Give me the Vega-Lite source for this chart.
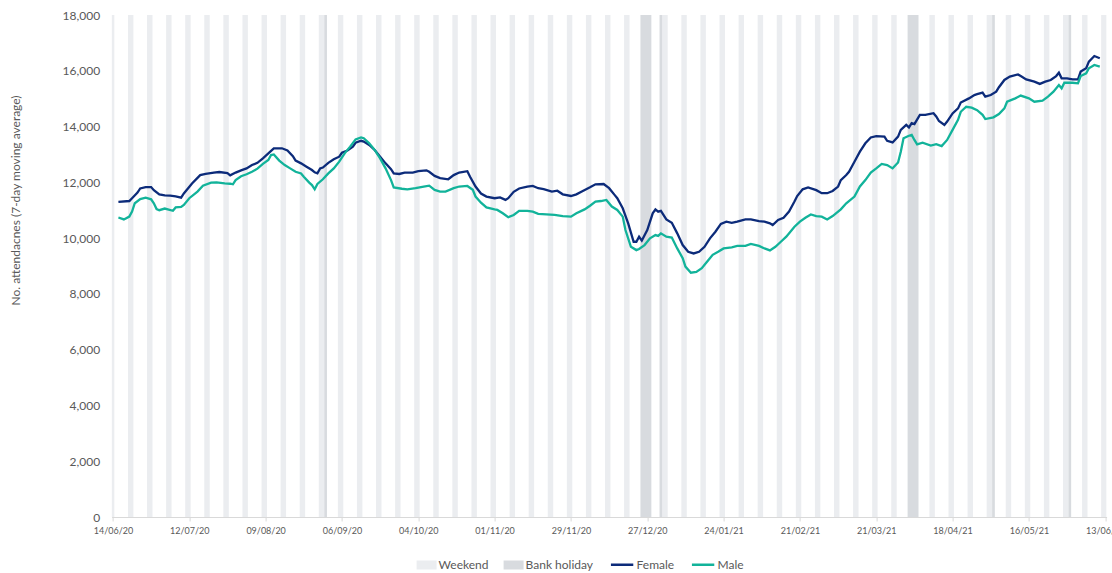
{
"$schema":"https://vega.github.io/schema/vega-lite/v6.json",
"width":995,"height":502,
"autosize":"none",
"padding":{"left":111.6,"top":15,"right":5.4,"bottom":56},
"background":"white",
"config":{"view":{"stroke":null},"font":"Lato"},
"datasets":{
"bands":[
{"start":"2020-06-14","end":"2020-06-14","t":"Weekend"},
{"start":"2020-06-20","end":"2020-06-21","t":"Weekend"},
{"start":"2020-06-27","end":"2020-06-28","t":"Weekend"},
{"start":"2020-07-04","end":"2020-07-05","t":"Weekend"},
{"start":"2020-07-11","end":"2020-07-12","t":"Weekend"},
{"start":"2020-07-18","end":"2020-07-19","t":"Weekend"},
{"start":"2020-07-25","end":"2020-07-26","t":"Weekend"},
{"start":"2020-08-01","end":"2020-08-02","t":"Weekend"},
{"start":"2020-08-08","end":"2020-08-09","t":"Weekend"},
{"start":"2020-08-15","end":"2020-08-16","t":"Weekend"},
{"start":"2020-08-22","end":"2020-08-23","t":"Weekend"},
{"start":"2020-08-29","end":"2020-08-30","t":"Weekend"},
{"start":"2020-09-05","end":"2020-09-06","t":"Weekend"},
{"start":"2020-09-12","end":"2020-09-13","t":"Weekend"},
{"start":"2020-09-19","end":"2020-09-20","t":"Weekend"},
{"start":"2020-09-26","end":"2020-09-27","t":"Weekend"},
{"start":"2020-10-03","end":"2020-10-04","t":"Weekend"},
{"start":"2020-10-10","end":"2020-10-11","t":"Weekend"},
{"start":"2020-10-17","end":"2020-10-18","t":"Weekend"},
{"start":"2020-10-24","end":"2020-10-25","t":"Weekend"},
{"start":"2020-10-31","end":"2020-11-01","t":"Weekend"},
{"start":"2020-11-07","end":"2020-11-08","t":"Weekend"},
{"start":"2020-11-14","end":"2020-11-15","t":"Weekend"},
{"start":"2020-11-21","end":"2020-11-22","t":"Weekend"},
{"start":"2020-11-28","end":"2020-11-29","t":"Weekend"},
{"start":"2020-12-05","end":"2020-12-06","t":"Weekend"},
{"start":"2020-12-12","end":"2020-12-13","t":"Weekend"},
{"start":"2020-12-19","end":"2020-12-20","t":"Weekend"},
{"start":"2020-12-26","end":"2020-12-27","t":"Weekend"},
{"start":"2021-01-02","end":"2021-01-03","t":"Weekend"},
{"start":"2021-01-09","end":"2021-01-10","t":"Weekend"},
{"start":"2021-01-16","end":"2021-01-17","t":"Weekend"},
{"start":"2021-01-23","end":"2021-01-24","t":"Weekend"},
{"start":"2021-01-30","end":"2021-01-31","t":"Weekend"},
{"start":"2021-02-06","end":"2021-02-07","t":"Weekend"},
{"start":"2021-02-13","end":"2021-02-14","t":"Weekend"},
{"start":"2021-02-20","end":"2021-02-21","t":"Weekend"},
{"start":"2021-02-27","end":"2021-02-28","t":"Weekend"},
{"start":"2021-03-06","end":"2021-03-07","t":"Weekend"},
{"start":"2021-03-13","end":"2021-03-14","t":"Weekend"},
{"start":"2021-03-20","end":"2021-03-21","t":"Weekend"},
{"start":"2021-03-27","end":"2021-03-28","t":"Weekend"},
{"start":"2021-04-03","end":"2021-04-04","t":"Weekend"},
{"start":"2021-04-10","end":"2021-04-11","t":"Weekend"},
{"start":"2021-04-17","end":"2021-04-18","t":"Weekend"},
{"start":"2021-04-24","end":"2021-04-25","t":"Weekend"},
{"start":"2021-05-01","end":"2021-05-02","t":"Weekend"},
{"start":"2021-05-08","end":"2021-05-09","t":"Weekend"},
{"start":"2021-05-15","end":"2021-05-16","t":"Weekend"},
{"start":"2021-05-22","end":"2021-05-23","t":"Weekend"},
{"start":"2021-05-29","end":"2021-05-30","t":"Weekend"},
{"start":"2021-06-05","end":"2021-06-06","t":"Weekend"},
{"start":"2021-06-12","end":"2021-06-13","t":"Weekend"},
{"start":"2020-08-31","end":"2020-08-31","t":"Bank holiday"},
{"start":"2020-12-25","end":"2020-12-28","t":"Bank holiday"},
{"start":"2021-01-01","end":"2021-01-01","t":"Bank holiday"},
{"start":"2021-04-02","end":"2021-04-05","t":"Bank holiday"},
{"start":"2021-05-03","end":"2021-05-03","t":"Bank holiday"},
{"start":"2021-05-31","end":"2021-05-31","t":"Bank holiday"}
],
"series":[
{"date":"2020-06-16","s":"Female","v":11300},
{"date":"2020-06-20","s":"Female","v":11330},
{"date":"2020-06-21","s":"Female","v":11430},
{"date":"2020-06-23","s":"Female","v":11630},
{"date":"2020-06-24","s":"Female","v":11780},
{"date":"2020-06-26","s":"Female","v":11830},
{"date":"2020-06-28","s":"Female","v":11830},
{"date":"2020-06-29","s":"Female","v":11720},
{"date":"2020-07-01","s":"Female","v":11570},
{"date":"2020-07-03","s":"Female","v":11530},
{"date":"2020-07-05","s":"Female","v":11520},
{"date":"2020-07-07","s":"Female","v":11500},
{"date":"2020-07-09","s":"Female","v":11450},
{"date":"2020-07-10","s":"Female","v":11600},
{"date":"2020-07-13","s":"Female","v":11960},
{"date":"2020-07-16","s":"Female","v":12260},
{"date":"2020-07-18","s":"Female","v":12300},
{"date":"2020-07-21","s":"Female","v":12350},
{"date":"2020-07-23","s":"Female","v":12370},
{"date":"2020-07-26","s":"Female","v":12330},
{"date":"2020-07-27","s":"Female","v":12250},
{"date":"2020-07-29","s":"Female","v":12350},
{"date":"2020-07-31","s":"Female","v":12430},
{"date":"2020-08-02","s":"Female","v":12500},
{"date":"2020-08-04","s":"Female","v":12620},
{"date":"2020-08-06","s":"Female","v":12700},
{"date":"2020-08-08","s":"Female","v":12860},
{"date":"2020-08-10","s":"Female","v":13040},
{"date":"2020-08-12","s":"Female","v":13220},
{"date":"2020-08-15","s":"Female","v":13220},
{"date":"2020-08-17","s":"Female","v":13140},
{"date":"2020-08-19","s":"Female","v":12940},
{"date":"2020-08-20","s":"Female","v":12780},
{"date":"2020-08-22","s":"Female","v":12680},
{"date":"2020-08-24","s":"Female","v":12560},
{"date":"2020-08-26","s":"Female","v":12440},
{"date":"2020-08-27","s":"Female","v":12360},
{"date":"2020-08-28","s":"Female","v":12320},
{"date":"2020-08-29","s":"Female","v":12500},
{"date":"2020-08-30","s":"Female","v":12530},
{"date":"2020-09-01","s":"Female","v":12700},
{"date":"2020-09-03","s":"Female","v":12830},
{"date":"2020-09-05","s":"Female","v":12920},
{"date":"2020-09-06","s":"Female","v":13060},
{"date":"2020-09-08","s":"Female","v":13140},
{"date":"2020-09-10","s":"Female","v":13280},
{"date":"2020-09-11","s":"Female","v":13420},
{"date":"2020-09-13","s":"Female","v":13490},
{"date":"2020-09-14","s":"Female","v":13460},
{"date":"2020-09-16","s":"Female","v":13340},
{"date":"2020-09-18","s":"Female","v":13160},
{"date":"2020-09-20","s":"Female","v":12920},
{"date":"2020-09-22","s":"Female","v":12680},
{"date":"2020-09-24","s":"Female","v":12470},
{"date":"2020-09-25","s":"Female","v":12320},
{"date":"2020-09-27","s":"Female","v":12300},
{"date":"2020-09-29","s":"Female","v":12350},
{"date":"2020-10-02","s":"Female","v":12350},
{"date":"2020-10-04","s":"Female","v":12400},
{"date":"2020-10-07","s":"Female","v":12430},
{"date":"2020-10-08","s":"Female","v":12380},
{"date":"2020-10-10","s":"Female","v":12230},
{"date":"2020-10-12","s":"Female","v":12150},
{"date":"2020-10-15","s":"Female","v":12110},
{"date":"2020-10-17","s":"Female","v":12260},
{"date":"2020-10-19","s":"Female","v":12350},
{"date":"2020-10-22","s":"Female","v":12400},
{"date":"2020-10-23","s":"Female","v":12200},
{"date":"2020-10-25","s":"Female","v":11850},
{"date":"2020-10-27","s":"Female","v":11600},
{"date":"2020-10-29","s":"Female","v":11490},
{"date":"2020-11-01","s":"Female","v":11430},
{"date":"2020-11-03","s":"Female","v":11460},
{"date":"2020-11-05","s":"Female","v":11370},
{"date":"2020-11-06","s":"Female","v":11430},
{"date":"2020-11-08","s":"Female","v":11660},
{"date":"2020-11-10","s":"Female","v":11780},
{"date":"2020-11-13","s":"Female","v":11850},
{"date":"2020-11-15","s":"Female","v":11870},
{"date":"2020-11-17","s":"Female","v":11790},
{"date":"2020-11-19","s":"Female","v":11760},
{"date":"2020-11-22","s":"Female","v":11670},
{"date":"2020-11-24","s":"Female","v":11700},
{"date":"2020-11-26","s":"Female","v":11570},
{"date":"2020-11-29","s":"Female","v":11510},
{"date":"2020-12-01","s":"Female","v":11570},
{"date":"2020-12-03","s":"Female","v":11670},
{"date":"2020-12-06","s":"Female","v":11820},
{"date":"2020-12-08","s":"Female","v":11930},
{"date":"2020-12-11","s":"Female","v":11940},
{"date":"2020-12-13","s":"Female","v":11790},
{"date":"2020-12-15","s":"Female","v":11550},
{"date":"2020-12-16","s":"Female","v":11430},
{"date":"2020-12-18","s":"Female","v":11070},
{"date":"2020-12-20","s":"Female","v":10530},
{"date":"2020-12-22","s":"Female","v":9870},
{"date":"2020-12-23","s":"Female","v":9870},
{"date":"2020-12-24","s":"Female","v":10050},
{"date":"2020-12-25","s":"Female","v":9910},
{"date":"2020-12-27","s":"Female","v":10290},
{"date":"2020-12-29","s":"Female","v":10890},
{"date":"2020-12-30","s":"Female","v":11030},
{"date":"2020-12-31","s":"Female","v":10950},
{"date":"2021-01-01","s":"Female","v":10980},
{"date":"2021-01-03","s":"Female","v":10670},
{"date":"2021-01-05","s":"Female","v":10550},
{"date":"2021-01-07","s":"Female","v":10170},
{"date":"2021-01-09","s":"Female","v":9750},
{"date":"2021-01-11","s":"Female","v":9510},
{"date":"2021-01-13","s":"Female","v":9450},
{"date":"2021-01-15","s":"Female","v":9510},
{"date":"2021-01-17","s":"Female","v":9690},
{"date":"2021-01-19","s":"Female","v":9990},
{"date":"2021-01-21","s":"Female","v":10230},
{"date":"2021-01-23","s":"Female","v":10510},
{"date":"2021-01-25","s":"Female","v":10590},
{"date":"2021-01-27","s":"Female","v":10550},
{"date":"2021-01-29","s":"Female","v":10590},
{"date":"2021-02-01","s":"Female","v":10670},
{"date":"2021-02-03","s":"Female","v":10670},
{"date":"2021-02-06","s":"Female","v":10610},
{"date":"2021-02-08","s":"Female","v":10590},
{"date":"2021-02-10","s":"Female","v":10530},
{"date":"2021-02-11","s":"Female","v":10470},
{"date":"2021-02-13","s":"Female","v":10650},
{"date":"2021-02-15","s":"Female","v":10730},
{"date":"2021-02-17","s":"Female","v":10950},
{"date":"2021-02-19","s":"Female","v":11310},
{"date":"2021-02-20","s":"Female","v":11510},
{"date":"2021-02-22","s":"Female","v":11750},
{"date":"2021-02-24","s":"Female","v":11820},
{"date":"2021-02-27","s":"Female","v":11720},
{"date":"2021-03-01","s":"Female","v":11610},
{"date":"2021-03-03","s":"Female","v":11610},
{"date":"2021-03-05","s":"Female","v":11690},
{"date":"2021-03-07","s":"Female","v":11850},
{"date":"2021-03-08","s":"Female","v":12080},
{"date":"2021-03-10","s":"Female","v":12260},
{"date":"2021-03-11","s":"Female","v":12380},
{"date":"2021-03-13","s":"Female","v":12740},
{"date":"2021-03-15","s":"Female","v":13100},
{"date":"2021-03-17","s":"Female","v":13400},
{"date":"2021-03-19","s":"Female","v":13610},
{"date":"2021-03-21","s":"Female","v":13660},
{"date":"2021-03-24","s":"Female","v":13640},
{"date":"2021-03-25","s":"Female","v":13490},
{"date":"2021-03-27","s":"Female","v":13430},
{"date":"2021-03-29","s":"Female","v":13640},
{"date":"2021-03-30","s":"Female","v":13880},
{"date":"2021-04-01","s":"Female","v":14060},
{"date":"2021-04-02","s":"Female","v":13970},
{"date":"2021-04-03","s":"Female","v":14120},
{"date":"2021-04-04","s":"Female","v":14090},
{"date":"2021-04-06","s":"Female","v":14420},
{"date":"2021-04-08","s":"Female","v":14420},
{"date":"2021-04-11","s":"Female","v":14480},
{"date":"2021-04-12","s":"Female","v":14360},
{"date":"2021-04-13","s":"Female","v":14200},
{"date":"2021-04-15","s":"Female","v":14060},
{"date":"2021-04-16","s":"Female","v":14180},
{"date":"2021-04-18","s":"Female","v":14470},
{"date":"2021-04-20","s":"Female","v":14650},
{"date":"2021-04-21","s":"Female","v":14860},
{"date":"2021-04-24","s":"Female","v":15010},
{"date":"2021-04-26","s":"Female","v":15130},
{"date":"2021-04-27","s":"Female","v":15160},
{"date":"2021-04-29","s":"Female","v":15220},
{"date":"2021-04-30","s":"Female","v":15070},
{"date":"2021-05-02","s":"Female","v":15130},
{"date":"2021-05-04","s":"Female","v":15250},
{"date":"2021-05-05","s":"Female","v":15410},
{"date":"2021-05-07","s":"Female","v":15670},
{"date":"2021-05-09","s":"Female","v":15790},
{"date":"2021-05-12","s":"Female","v":15870},
{"date":"2021-05-13","s":"Female","v":15810},
{"date":"2021-05-15","s":"Female","v":15690},
{"date":"2021-05-18","s":"Female","v":15610},
{"date":"2021-05-20","s":"Female","v":15530},
{"date":"2021-05-22","s":"Female","v":15610},
{"date":"2021-05-24","s":"Female","v":15670},
{"date":"2021-05-26","s":"Female","v":15810},
{"date":"2021-05-27","s":"Female","v":15930},
{"date":"2021-05-28","s":"Female","v":15730},
{"date":"2021-05-30","s":"Female","v":15730},
{"date":"2021-06-01","s":"Female","v":15690},
{"date":"2021-06-03","s":"Female","v":15690},
{"date":"2021-06-04","s":"Female","v":15970},
{"date":"2021-06-06","s":"Female","v":16090},
{"date":"2021-06-07","s":"Female","v":16330},
{"date":"2021-06-09","s":"Female","v":16530},
{"date":"2021-06-11","s":"Female","v":16450},
{"date":"2020-06-16","s":"Male","v":10740},
{"date":"2020-06-18","s":"Male","v":10670},
{"date":"2020-06-20","s":"Male","v":10770},
{"date":"2020-06-21","s":"Male","v":10950},
{"date":"2020-06-22","s":"Male","v":11250},
{"date":"2020-06-24","s":"Male","v":11400},
{"date":"2020-06-26","s":"Male","v":11450},
{"date":"2020-06-28","s":"Male","v":11390},
{"date":"2020-06-29","s":"Male","v":11250},
{"date":"2020-06-30","s":"Male","v":11040},
{"date":"2020-07-01","s":"Male","v":11000},
{"date":"2020-07-03","s":"Male","v":11060},
{"date":"2020-07-06","s":"Male","v":10980},
{"date":"2020-07-07","s":"Male","v":11100},
{"date":"2020-07-09","s":"Male","v":11120},
{"date":"2020-07-10","s":"Male","v":11190},
{"date":"2020-07-12","s":"Male","v":11430},
{"date":"2020-07-15","s":"Male","v":11670},
{"date":"2020-07-17","s":"Male","v":11880},
{"date":"2020-07-20","s":"Male","v":11990},
{"date":"2020-07-22","s":"Male","v":12000},
{"date":"2020-07-25","s":"Male","v":11960},
{"date":"2020-07-27","s":"Male","v":11950},
{"date":"2020-07-28","s":"Male","v":11930},
{"date":"2020-07-29","s":"Male","v":12080},
{"date":"2020-07-31","s":"Male","v":12220},
{"date":"2020-08-02","s":"Male","v":12290},
{"date":"2020-08-04","s":"Male","v":12380},
{"date":"2020-08-06","s":"Male","v":12490},
{"date":"2020-08-08","s":"Male","v":12660},
{"date":"2020-08-10","s":"Male","v":12800},
{"date":"2020-08-11","s":"Male","v":12980},
{"date":"2020-08-12","s":"Male","v":13000},
{"date":"2020-08-14","s":"Male","v":12780},
{"date":"2020-08-16","s":"Male","v":12620},
{"date":"2020-08-18","s":"Male","v":12500},
{"date":"2020-08-20","s":"Male","v":12380},
{"date":"2020-08-22","s":"Male","v":12320},
{"date":"2020-08-23","s":"Male","v":12200},
{"date":"2020-08-25","s":"Male","v":11990},
{"date":"2020-08-26","s":"Male","v":11900},
{"date":"2020-08-27","s":"Male","v":11750},
{"date":"2020-08-28","s":"Male","v":11940},
{"date":"2020-08-30","s":"Male","v":12110},
{"date":"2020-09-01","s":"Male","v":12320},
{"date":"2020-09-03","s":"Male","v":12500},
{"date":"2020-09-05","s":"Male","v":12740},
{"date":"2020-09-07","s":"Male","v":13040},
{"date":"2020-09-09","s":"Male","v":13280},
{"date":"2020-09-11","s":"Male","v":13540},
{"date":"2020-09-13","s":"Male","v":13610},
{"date":"2020-09-14","s":"Male","v":13580},
{"date":"2020-09-16","s":"Male","v":13400},
{"date":"2020-09-18","s":"Male","v":13160},
{"date":"2020-09-20","s":"Male","v":12860},
{"date":"2020-09-22","s":"Male","v":12500},
{"date":"2020-09-24","s":"Male","v":12080},
{"date":"2020-09-25","s":"Male","v":11820},
{"date":"2020-09-28","s":"Male","v":11770},
{"date":"2020-09-30","s":"Male","v":11750},
{"date":"2020-10-03","s":"Male","v":11790},
{"date":"2020-10-06","s":"Male","v":11850},
{"date":"2020-10-08","s":"Male","v":11880},
{"date":"2020-10-10","s":"Male","v":11730},
{"date":"2020-10-12","s":"Male","v":11670},
{"date":"2020-10-14","s":"Male","v":11670},
{"date":"2020-10-17","s":"Male","v":11790},
{"date":"2020-10-19","s":"Male","v":11850},
{"date":"2020-10-22","s":"Male","v":11870},
{"date":"2020-10-24","s":"Male","v":11730},
{"date":"2020-10-25","s":"Male","v":11490},
{"date":"2020-10-27","s":"Male","v":11270},
{"date":"2020-10-29","s":"Male","v":11100},
{"date":"2020-11-01","s":"Male","v":11030},
{"date":"2020-11-02","s":"Male","v":11010},
{"date":"2020-11-04","s":"Male","v":10890},
{"date":"2020-11-06","s":"Male","v":10750},
{"date":"2020-11-08","s":"Male","v":10830},
{"date":"2020-11-10","s":"Male","v":10980},
{"date":"2020-11-13","s":"Male","v":10980},
{"date":"2020-11-15","s":"Male","v":10950},
{"date":"2020-11-17","s":"Male","v":10870},
{"date":"2020-11-20","s":"Male","v":10850},
{"date":"2020-11-23","s":"Male","v":10830},
{"date":"2020-11-26","s":"Male","v":10790},
{"date":"2020-11-29","s":"Male","v":10770},
{"date":"2020-12-01","s":"Male","v":10890},
{"date":"2020-12-04","s":"Male","v":11030},
{"date":"2020-12-06","s":"Male","v":11160},
{"date":"2020-12-08","s":"Male","v":11310},
{"date":"2020-12-10","s":"Male","v":11330},
{"date":"2020-12-12","s":"Male","v":11370},
{"date":"2020-12-14","s":"Male","v":11130},
{"date":"2020-12-16","s":"Male","v":11010},
{"date":"2020-12-18","s":"Male","v":10770},
{"date":"2020-12-19","s":"Male","v":10290},
{"date":"2020-12-21","s":"Male","v":9690},
{"date":"2020-12-23","s":"Male","v":9570},
{"date":"2020-12-24","s":"Male","v":9610},
{"date":"2020-12-26","s":"Male","v":9750},
{"date":"2020-12-28","s":"Male","v":9990},
{"date":"2020-12-30","s":"Male","v":10110},
{"date":"2020-12-31","s":"Male","v":10080},
{"date":"2021-01-01","s":"Male","v":10170},
{"date":"2021-01-03","s":"Male","v":10050},
{"date":"2021-01-05","s":"Male","v":10020},
{"date":"2021-01-07","s":"Male","v":9630},
{"date":"2021-01-09","s":"Male","v":9280},
{"date":"2021-01-10","s":"Male","v":8980},
{"date":"2021-01-12","s":"Male","v":8760},
{"date":"2021-01-14","s":"Male","v":8790},
{"date":"2021-01-16","s":"Male","v":8920},
{"date":"2021-01-18","s":"Male","v":9160},
{"date":"2021-01-20","s":"Male","v":9400},
{"date":"2021-01-22","s":"Male","v":9510},
{"date":"2021-01-24","s":"Male","v":9630},
{"date":"2021-01-27","s":"Male","v":9670},
{"date":"2021-01-29","s":"Male","v":9720},
{"date":"2021-02-01","s":"Male","v":9720},
{"date":"2021-02-03","s":"Male","v":9790},
{"date":"2021-02-06","s":"Male","v":9720},
{"date":"2021-02-08","s":"Male","v":9630},
{"date":"2021-02-10","s":"Male","v":9560},
{"date":"2021-02-12","s":"Male","v":9690},
{"date":"2021-02-14","s":"Male","v":9870},
{"date":"2021-02-16","s":"Male","v":10050},
{"date":"2021-02-19","s":"Male","v":10410},
{"date":"2021-02-21","s":"Male","v":10590},
{"date":"2021-02-23","s":"Male","v":10730},
{"date":"2021-02-25","s":"Male","v":10850},
{"date":"2021-02-27","s":"Male","v":10790},
{"date":"2021-03-01","s":"Male","v":10770},
{"date":"2021-03-03","s":"Male","v":10670},
{"date":"2021-03-05","s":"Male","v":10790},
{"date":"2021-03-08","s":"Male","v":11030},
{"date":"2021-03-10","s":"Male","v":11250},
{"date":"2021-03-13","s":"Male","v":11490},
{"date":"2021-03-15","s":"Male","v":11850},
{"date":"2021-03-17","s":"Male","v":12080},
{"date":"2021-03-19","s":"Male","v":12350},
{"date":"2021-03-21","s":"Male","v":12500},
{"date":"2021-03-23","s":"Male","v":12660},
{"date":"2021-03-25","s":"Male","v":12620},
{"date":"2021-03-27","s":"Male","v":12500},
{"date":"2021-03-29","s":"Male","v":12710},
{"date":"2021-03-30","s":"Male","v":13100},
{"date":"2021-03-31","s":"Male","v":13580},
{"date":"2021-04-02","s":"Male","v":13670},
{"date":"2021-04-03","s":"Male","v":13700},
{"date":"2021-04-04","s":"Male","v":13520},
{"date":"2021-04-05","s":"Male","v":13360},
{"date":"2021-04-07","s":"Male","v":13420},
{"date":"2021-04-10","s":"Male","v":13320},
{"date":"2021-04-12","s":"Male","v":13370},
{"date":"2021-04-14","s":"Male","v":13300},
{"date":"2021-04-16","s":"Male","v":13520},
{"date":"2021-04-18","s":"Male","v":13880},
{"date":"2021-04-20","s":"Male","v":14240},
{"date":"2021-04-21","s":"Male","v":14530},
{"date":"2021-04-23","s":"Male","v":14710},
{"date":"2021-04-25","s":"Male","v":14680},
{"date":"2021-04-27","s":"Male","v":14590},
{"date":"2021-04-29","s":"Male","v":14420},
{"date":"2021-04-30","s":"Male","v":14270},
{"date":"2021-05-03","s":"Male","v":14330},
{"date":"2021-05-05","s":"Male","v":14450},
{"date":"2021-05-07","s":"Male","v":14650},
{"date":"2021-05-08","s":"Male","v":14890},
{"date":"2021-05-11","s":"Male","v":15010},
{"date":"2021-05-13","s":"Male","v":15110},
{"date":"2021-05-16","s":"Male","v":15010},
{"date":"2021-05-18","s":"Male","v":14890},
{"date":"2021-05-21","s":"Male","v":14930},
{"date":"2021-05-23","s":"Male","v":15070},
{"date":"2021-05-25","s":"Male","v":15250},
{"date":"2021-05-27","s":"Male","v":15490},
{"date":"2021-05-28","s":"Male","v":15370},
{"date":"2021-05-29","s":"Male","v":15570},
{"date":"2021-06-01","s":"Male","v":15570},
{"date":"2021-06-03","s":"Male","v":15550},
{"date":"2021-06-04","s":"Male","v":15810},
{"date":"2021-06-06","s":"Male","v":15910},
{"date":"2021-06-07","s":"Male","v":16090},
{"date":"2021-06-09","s":"Male","v":16210},
{"date":"2021-06-11","s":"Male","v":16150}
]
},
"layer":[
{
"data":{"name":"bands"},
"mark":{"type":"rect","xOffset":-1.36,"x2Offset":1.36,"clip":true},
"encoding":{
"x":{"field":"start","type":"temporal",
"scale":{"type":"utc","domain":[{"year":2020,"month":6,"date":13,"hours":12,"utc":true},{"year":2021,"month":6,"date":13,"hours":12,"utc":true}]},
"axis":{"title":null,"values":[{"year":2020,"month":6,"date":14,"utc":true},{"year":2020,"month":7,"date":12,"utc":true},{"year":2020,"month":8,"date":9,"utc":true},{"year":2020,"month":9,"date":6,"utc":true},{"year":2020,"month":10,"date":4,"utc":true},{"year":2020,"month":11,"date":1,"utc":true},{"year":2020,"month":11,"date":29,"utc":true},{"year":2020,"month":12,"date":27,"utc":true},{"year":2021,"month":1,"date":24,"utc":true},{"year":2021,"month":2,"date":21,"utc":true},{"year":2021,"month":3,"date":21,"utc":true},{"year":2021,"month":4,"date":18,"utc":true},{"year":2021,"month":5,"date":16,"utc":true},{"year":2021,"month":6,"date":13,"utc":true}],
"labelExpr":"utcFormat(datum.value, '%d/%m/%y')","labelFont":"Lato","labelFontSize":9,"labelColor":"#595959","domainColor":"#d9d9d9","tickColor":"#d9d9d9","tickSize":4,"labelPadding":5,"grid":false,"labelOverlap":false,"labelBound":false,"labelFlush":false}},
"x2":{"field":"end"},
"y":{"datum":0,"type":"quantitative","scale":{"domain":[0,18000]},
"axis":{"title":"No. attendacnes (7-day moving average)","titleFont":"Lato","titleFontSize":12,"titleFontWeight":"normal","titleColor":"#595959","titleX":-96,"titleY":185,"titleAngle":270,"titleAlign":"center","titleBaseline":"middle","labelFont":"Lato","labelFontSize":12,"labelColor":"#595959","labelPadding":12,"ticks":false,"domain":false,"grid":false,"values":[0,2000,4000,6000,8000,10000,12000,14000,16000,18000],"labelExpr":"format(datum.value, ',')"}},
"y2":{"datum":18000},
"fill":{"field":"t","type":"nominal","scale":{"domain":["Weekend","Bank holiday"],"range":["#ebedf0","#d8dbdf"]},
"legend":{"orient":"none","legendX":305,"legendY":540,"direction":"horizontal","title":null,"symbolType":"M-1,-0.45H1V0.45H-1Z","symbolSize":400,"symbolStrokeWidth":0,"labelFont":"Lato","labelFontSize":12,"labelColor":"#595959","columnPadding":15,"labelOffset":2,"padding":0}}
}
},
{
"data":{"name":"series"},
"mark":{"type":"line","strokeWidth":2.3,"clip":true},
"encoding":{
"x":{"field":"date","type":"temporal",
"scale":{"type":"utc","domain":[{"year":2020,"month":6,"date":13,"hours":12,"utc":true},{"year":2021,"month":6,"date":13,"hours":12,"utc":true}]},
"axis":{"title":null,"values":[{"year":2020,"month":6,"date":14,"utc":true},{"year":2020,"month":7,"date":12,"utc":true},{"year":2020,"month":8,"date":9,"utc":true},{"year":2020,"month":9,"date":6,"utc":true},{"year":2020,"month":10,"date":4,"utc":true},{"year":2020,"month":11,"date":1,"utc":true},{"year":2020,"month":11,"date":29,"utc":true},{"year":2020,"month":12,"date":27,"utc":true},{"year":2021,"month":1,"date":24,"utc":true},{"year":2021,"month":2,"date":21,"utc":true},{"year":2021,"month":3,"date":21,"utc":true},{"year":2021,"month":4,"date":18,"utc":true},{"year":2021,"month":5,"date":16,"utc":true},{"year":2021,"month":6,"date":13,"utc":true}],
"labelExpr":"utcFormat(datum.value, '%d/%m/%y')","labelFont":"Lato","labelFontSize":9,"labelColor":"#595959","domainColor":"#d9d9d9","tickColor":"#d9d9d9","tickSize":4,"labelPadding":5,"grid":false,"labelOverlap":false,"labelBound":false,"labelFlush":false}},
"y":{"field":"v","type":"quantitative","scale":{"domain":[0,18000]},
"axis":{"title":"No. attendacnes (7-day moving average)","titleFont":"Lato","titleFontSize":12,"titleFontWeight":"normal","titleColor":"#595959","titleX":-96,"titleY":185,"titleAngle":270,"titleAlign":"center","titleBaseline":"middle","labelFont":"Lato","labelFontSize":12,"labelColor":"#595959","labelPadding":12,"ticks":false,"domain":false,"grid":false,"values":[0,2000,4000,6000,8000,10000,12000,14000,16000,18000],"labelExpr":"format(datum.value, ',')"}},
"stroke":{"field":"s","type":"nominal","scale":{"domain":["Female","Male"],"range":["#0c2b7a","#12b39a"]},
"legend":{"orient":"none","legendX":498,"legendY":537,"direction":"horizontal","title":null,"symbolType":"stroke","symbolSize":500,"symbolStrokeWidth":2.5,"labelFont":"Lato","labelFontSize":12,"labelColor":"#595959","columnPadding":12,"labelOffset":2,"padding":0}}
}
}
]
}
